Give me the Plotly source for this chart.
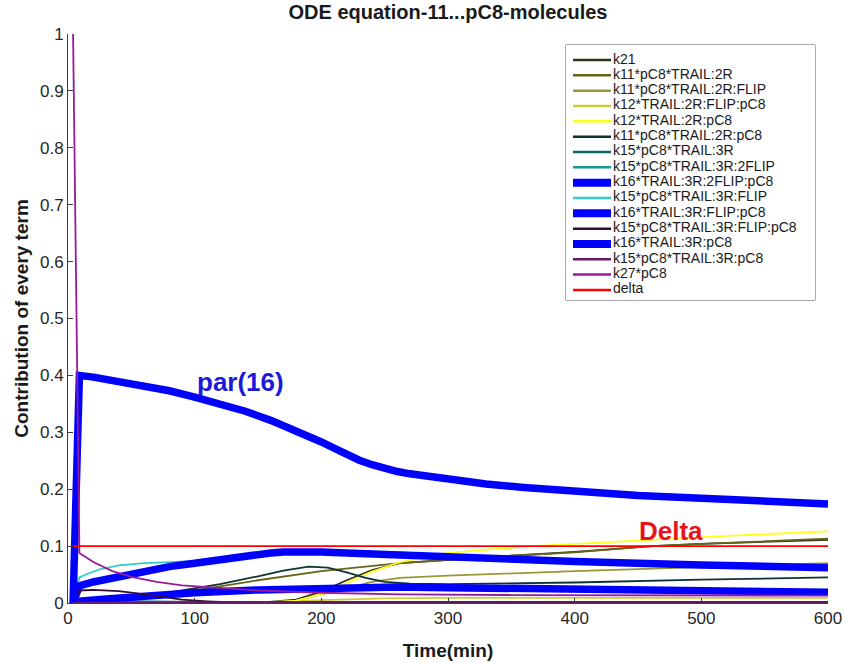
import plotly.graph_objects as go

# ---------------- data ----------------
names = [
    "k21", "k11*pC8*TRAIL:2R", "k11*pC8*TRAIL:2R:FLIP", "k12*TRAIL:2R:FLIP:pC8",
    "k12*TRAIL:2R:pC8", "k11*pC8*TRAIL:2R:pC8", "k15*pC8*TRAIL:3R",
    "k15*pC8*TRAIL:3R:2FLIP", "k16*TRAIL:3R:2FLIP:pC8", "k15*pC8*TRAIL:3R:FLIP",
    "k16*TRAIL:3R:FLIP:pC8", "k15*pC8*TRAIL:3R:FLIP:pC8", "k16*TRAIL:3R:pC8",
    "k15*pC8*TRAIL:3R:pC8", "k27*pC8", "delta",
]
colors = [
    "#33331a", "#66661a", "#999933", "#cccc33", "#ffff1a", "#0d3333", "#0d6666",
    "#1a9999", "#0000ff", "#33cccc", "#0000ff", "#330d33", "#0000ff",
    "#661a66", "#991a99", "#ff0000",
]
thick = [False] * 8 + [True, False, True, False, True, False, False, False]

t_k21 = [4, 150, 180, 200, 220, 240, 262, 300, 350, 400, 462, 500, 600]
y_k21 = [0, 0, 0.006, 0.02, 0.04, 0.058, 0.07, 0.076, 0.083, 0.09, 0.1, 0.104, 0.111]

t_k11_2R = [4, 9, 50, 100, 150, 200, 262, 300, 350, 400, 460, 500, 600]
y_k11_2R = [0, 0, 0.008, 0.022, 0.04, 0.056, 0.07, 0.076, 0.083, 0.089, 0.1, 0.104, 0.113]

t_k11_2R_FLIP = [4, 150, 180, 200, 220, 240, 262, 300, 400, 500, 600]
y_k11_2R_FLIP = [0, 0, 0.004, 0.015, 0.027, 0.037, 0.044, 0.048, 0.056, 0.063, 0.07]

t_k12_2R_FLIP_pC8 = [4, 140, 200, 250, 300, 600]
y_k12_2R_FLIP_pC8 = [0, 0, 0.005, 0.008, 0.009, 0.009]

t_k12_2R_pC8 = [4, 160, 180, 200, 220, 240, 262, 300, 367, 450, 520, 600]
y_k12_2R_pC8 = [0, 0, 0.004, 0.015, 0.035, 0.055, 0.072, 0.088, 0.1, 0.11, 0.118, 0.126]

t_k11_2R_pC8 = [4, 9, 30, 60, 90, 120, 150, 170, 190, 205, 220, 235, 250, 270, 300, 350, 400, 500, 600]
y_k11_2R_pC8 = [0, 0, 0.004, 0.012, 0.022, 0.033, 0.047, 0.057, 0.064, 0.062, 0.054, 0.044, 0.037,
                0.034, 0.033, 0.034, 0.036, 0.041, 0.045]

t_k15_3R = [4, 9, 100, 300, 600]
y_k15_3R = [0, 0.004, 0.002, 0.001, 0.001]

t_k15_3R_2FLIP = [4, 9, 100, 300, 600]
y_k15_3R_2FLIP = [0, 0.002, 0.001, 0, 0]

t_k16_3R_2FLIP_pC8 = [4, 9, 30, 60, 100, 150, 200, 260, 300, 400, 500, 600]
y_k16_3R_2FLIP_pC8 = [0, 0.003, 0.007, 0.012, 0.018, 0.023, 0.026, 0.028, 0.027, 0.024, 0.021, 0.019]

t_k15_3R_FLIP = [4, 9, 15, 25, 40, 60, 80, 100, 120, 140, 160, 180, 200, 260, 300, 400, 500, 600]
y_k15_3R_FLIP = [0, 0.045, 0.051, 0.059, 0.066, 0.07, 0.072, 0.074, 0.076, 0.082, 0.087, 0.089,
                 0.088, 0.082, 0.078, 0.071, 0.065, 0.06]

t_k16_3R_FLIP_pC8 = [4, 9, 20, 40, 60, 80, 100, 120, 140, 160, 170, 180, 190, 200, 230, 260, 300,
                     400, 500, 600]
y_k16_3R_FLIP_pC8 = [0, 0.03, 0.037, 0.047, 0.056, 0.064, 0.07, 0.077, 0.0835, 0.088, 0.0898,
                     0.0905, 0.0903, 0.0897, 0.087, 0.084, 0.08, 0.073, 0.067, 0.062]

t_k15_3R_FLIP_pC8 = [4, 9, 20, 40, 55, 70, 90, 110, 130, 160, 600]
y_k15_3R_FLIP_pC8 = [0, 0.022, 0.023, 0.021, 0.017, 0.012, 0.006, 0.003, 0.001, 0, 0]

t_k16_3R_pC8 = [4, 9, 20, 40, 60, 80, 100, 120, 140, 160, 175, 190, 200, 210, 220, 230, 240,
                250, 260, 270, 285, 300, 330, 360, 400, 450, 500, 550, 600]
y_k16_3R_pC8 = [0, 0.400, 0.397, 0.390, 0.382, 0.373, 0.362, 0.350, 0.337, 0.321, 0.308, 0.293,
                0.283, 0.272, 0.261, 0.251, 0.243, 0.236, 0.231, 0.227, 0.222, 0.217, 0.209,
                0.203, 0.196, 0.189, 0.184, 0.179, 0.174]

t_k15_3R_pC8 = [4, 9, 100, 200, 600]
y_k15_3R_pC8 = [0, 0.001, 0.001, 0.002, 0.002]

t_k27_pC8 = [4, 9, 20, 35, 50, 70, 90, 115, 150, 200, 262, 350, 450, 600]
y_k27_pC8 = [1.0, 0.088, 0.072, 0.056, 0.046, 0.037, 0.031, 0.027, 0.022, 0.018, 0.015, 0.014,
             0.014, 0.013]

t_delta = [4, 600]
y_delta = [0.1, 0.1]

series_t = [t_k21, t_k11_2R, t_k11_2R_FLIP, t_k12_2R_FLIP_pC8, t_k12_2R_pC8, t_k11_2R_pC8,
            t_k15_3R, t_k15_3R_2FLIP, t_k16_3R_2FLIP_pC8, t_k15_3R_FLIP, t_k16_3R_FLIP_pC8,
            t_k15_3R_FLIP_pC8, t_k16_3R_pC8, t_k15_3R_pC8, t_k27_pC8, t_delta]
series_y = [y_k21, y_k11_2R, y_k11_2R_FLIP, y_k12_2R_FLIP_pC8, y_k12_2R_pC8, y_k11_2R_pC8,
            y_k15_3R, y_k15_3R_2FLIP, y_k16_3R_2FLIP_pC8, y_k15_3R_FLIP, y_k16_3R_FLIP_pC8,
            y_k15_3R_FLIP_pC8, y_k16_3R_pC8, y_k15_3R_pC8, y_k27_pC8, y_delta]

x_ticks = [0, 100, 200, 300, 400, 500, 600]
y_ticks = [0, 0.1, 0.2, 0.3, 0.4, 0.5, 0.6, 0.7, 0.8, 0.9, 1]
y_tick_text = ["0", "0.1", "0.2", "0.3", "0.4", "0.5", "0.6", "0.7", "0.8", "0.9", "1"]

# ---------------- layout constants ----------------
W, H = 845, 663
ML, MR, MT, MB = 68, 17, 34, 60
FONT = "Liberation Sans, Arial, Helvetica, sans-serif"
AX = "#404040"
THIN, THICK = 1.8, 7.5

# legend box in pixels
LEG_L, LEG_R, LEG_T, LEG_B = 566, 815, 45, 300
LEG_ROW, LEG_PAD_TOP = 15.33, 15.0
SAMPLE_X0, SAMPLE_X1, TEXT_X = 7, 45, 47
LEG_FONT = 14

pw, ph = W - ML - MR, H - MT - MB

fig = go.Figure()

for name, col, tk, tx, ty in zip(names, colors, thick, series_t, series_y):
    fig.add_trace(go.Scatter(
        x=tx, y=ty, mode="lines", name=name,
        line=dict(color=col, width=THICK if tk else THIN),
        xaxis="x", yaxis="y", hoverinfo="name+x+y",
    ))

# hand-built legend (tight MATLAB-style row spacing) in its own axes
for i, (name, col, tk) in enumerate(zip(names, colors, thick)):
    fig.add_trace(go.Scatter(
        x=[SAMPLE_X0, SAMPLE_X1], y=[i, i], mode="lines",
        line=dict(color=col, width=8 if tk else 2.5),
        xaxis="x2", yaxis="y2", hoverinfo="skip",
    ))
fig.add_trace(go.Scatter(
    x=[TEXT_X] * len(names), y=list(range(len(names))), mode="text",
    text=names, textposition="middle right",
    textfont=dict(family=FONT, size=LEG_FONT, color="#1a1a1a"),
    xaxis="x2", yaxis="y2", hoverinfo="skip",
))

leg_w = LEG_R - LEG_L
leg_h = LEG_B - LEG_T

fig.update_layout(
    width=W, height=H,
    margin=dict(l=ML, r=MR, t=MT, b=MB, autoexpand=False),
    paper_bgcolor="white", plot_bgcolor="white",
    showlegend=False,
    font=dict(family=FONT, color="#262626"),
    title=dict(
        text="ODE equation-11...pC8-molecules",
        font=dict(family=FONT, size=20, color="#1a1a1a", weight="bold"),
        x=0.5, xref="paper", xanchor="center",
        y=1 - 12 / H, yref="container", yanchor="middle",
    ),
    xaxis=dict(
        domain=[0, 1], range=[0, 600], tickvals=x_ticks, automargin=False,
        ticks="inside", ticklen=5, tickcolor=AX, showline=True, linecolor=AX,
        linewidth=1, showgrid=False, zeroline=False, mirror=False,
        tickfont=dict(family=FONT, size=17, color="#262626"),
        title=dict(text="Time(min)", standoff=16,
                   font=dict(family=FONT, size=19, color="#1a1a1a", weight="bold")),
    ),
    yaxis=dict(
        domain=[0, 1], range=[0, 1], tickvals=y_ticks, ticktext=y_tick_text, automargin=False,
        ticks="inside", ticklen=5, tickcolor=AX, showline=True, linecolor=AX,
        linewidth=1, showgrid=False, zeroline=False, mirror=False,
        tickfont=dict(family=FONT, size=17, color="#262626"),
        title=dict(text="Contribution of every term", standoff=6,
                   font=dict(family=FONT, size=19, color="#1a1a1a", weight="bold")),
    ),
    xaxis2=dict(
        domain=[(LEG_L - ML) / pw, (LEG_R - ML) / pw], range=[0, leg_w],
        visible=False, fixedrange=True, anchor="y2", automargin=False,
    ),
    yaxis2=dict(
        domain=[(H - MB - LEG_B) / ph, (H - MB - LEG_T) / ph],
        range=[(leg_h - LEG_PAD_TOP) / LEG_ROW, -LEG_PAD_TOP / LEG_ROW],
        visible=False, fixedrange=True, anchor="x2", automargin=False,
    ),
    shapes=[dict(
        type="rect", xref="x2 domain", yref="y2 domain", x0=0, x1=1, y0=0, y1=1,
        fillcolor="white", line=dict(color="#555555", width=1), layer="below",
    )],
    annotations=[
        dict(text="par(16)", x=136, y=0.389, xref="x", yref="y", showarrow=False,
             font=dict(family=FONT, size=26, color="#1a1ad8", weight="bold")),
        dict(text="Delta", x=476, y=0.126, xref="x", yref="y", showarrow=False,
             font=dict(family=FONT, size=26, color="#e8141c", weight="bold")),
    ],
)

fig.write_html("out.html")
